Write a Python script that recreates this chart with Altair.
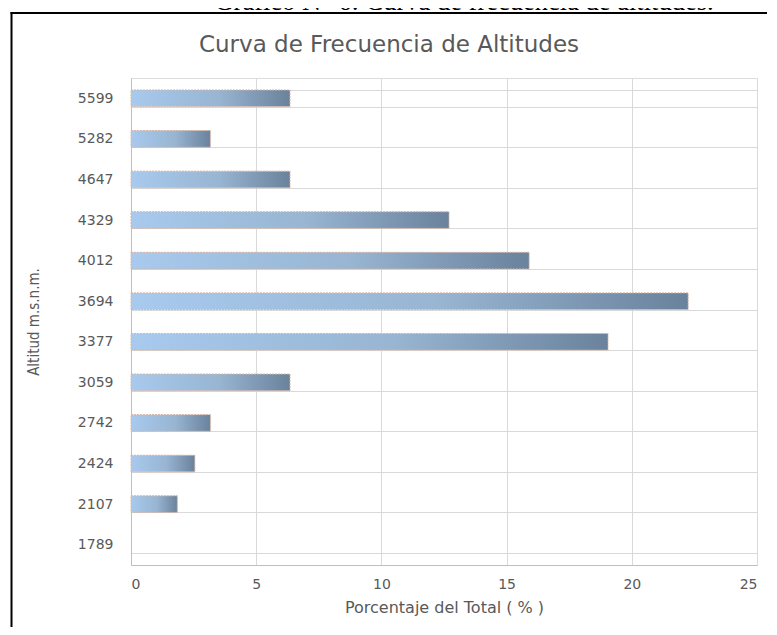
import altair as alt
import pandas as pd

# ---- data ----
altitudes = ["5599", "5282", "4647", "4329", "4012", "3694", "3377",
             "3059", "2742", "2424", "2107", "1789"]
percent = [6.35, 3.17, 6.35, 12.7, 15.9, 22.25, 19.05, 6.35, 3.17, 2.55, 1.85, 0.0]

chart_title = "Curva de Frecuencia de Altitudes"
page_caption = "Gráfico N° 6: Curva de frecuencia de altitudes."
x_title = "Porcentaje del Total ( % )"
y_title = "Altitud m.s.n.m."
x_ticks = [0, 5, 10, 15, 20, 25]

df = pd.DataFrame({"alt": altitudes, "pct": percent})

W, H = 626, 487
TXT = "#595959"
GRID = "#d9d9d9"
FONT = "DejaVu Sans"

bar_gradient = alt.Gradient(
    gradient="linear",
    stops=[
        alt.GradientStop(color="#a8caee", offset=0),
        alt.GradientStop(color="#98b5d2", offset=0.55),
        alt.GradientStop(color="#6a829c", offset=1),
    ],
    x1=0, x2=1, y1=0, y2=0,
)

bars = alt.Chart(df).transform_filter(alt.datum.pct > 0).mark_bar(
    color=bar_gradient,
    stroke="#d6b4a4",
    strokeWidth=1,
    strokeDash=[2, 1],
).encode(
    x=alt.X("pct:Q",
            scale=alt.Scale(domain=[0, 25], nice=False),
            axis=alt.Axis(values=x_ticks, title=x_title, grid=True, gridColor=GRID,
                          ticks=False, domainColor="#bfbfbf", labelPadding=12,
                          labelFontSize=14, labelColor=TXT, labelFont=FONT,
                          titleFont=FONT, titleFontSize=16, titleColor=TXT,
                          titleFontWeight="normal", titleX=W / 2, titleY=42,
                          titleBaseline="middle")),
    y=alt.Y("alt:N", sort=None,
            scale=alt.Scale(domain=altitudes, paddingInner=0.59, paddingOuter=0.295),
            axis=alt.Axis(title=y_title, grid=True, gridColor=GRID, tickBand="extent",
                          ticks=False, domainColor="#bfbfbf", labelPadding=18,
                          labelFontSize=14, labelColor=TXT, labelFont=FONT,
                          titleFont="DejaVu Sans Condensed, Roboto, sans-serif",
                          titleFontSize=15,
                          titleColor=TXT, titleFontWeight="normal",
                          titleX=-98, titleY=H / 2, titleAngle=-90,
                          titleBaseline="middle", titleAlign="center")),
)

title_txt = alt.Chart(pd.DataFrame({"t": [chart_title]})).mark_text(
    font=FONT, fontSize=23, color=TXT, baseline="middle", align="center"
).encode(x=alt.value(258), y=alt.value(-33), text="t:N")

caption_txt = alt.Chart(pd.DataFrame({"t": [page_caption]})).mark_text(
    font="Liberation Serif", fontSize=26.5, color="#000000", baseline="alphabetic",
    align="center"
).encode(x=alt.value(333), y=alt.value(-68), text="t:N")

frame_left = alt.Chart(pd.DataFrame({"a": [0]})).mark_rule(
    color="#000000", strokeWidth=2
).encode(x=alt.value(-119.5), y=alt.value(-66), y2=alt.value(560))

frame_top = alt.Chart(pd.DataFrame({"a": [0]})).mark_rule(
    color="#000000", strokeWidth=2
).encode(y=alt.value(-65), x=alt.value(-120.5), x2=alt.value(636))

chart = alt.layer(bars, title_txt, caption_txt, frame_left, frame_top).properties(
    width=W, height=H,
    autosize=alt.AutoSizeParams(type="none"),
    padding={"left": 123, "top": 70, "right": 12, "bottom": 62},
).configure_view(stroke=None).configure(background="white")

chart.save("out.html", embed_options={"renderer": "svg", "actions": False})
